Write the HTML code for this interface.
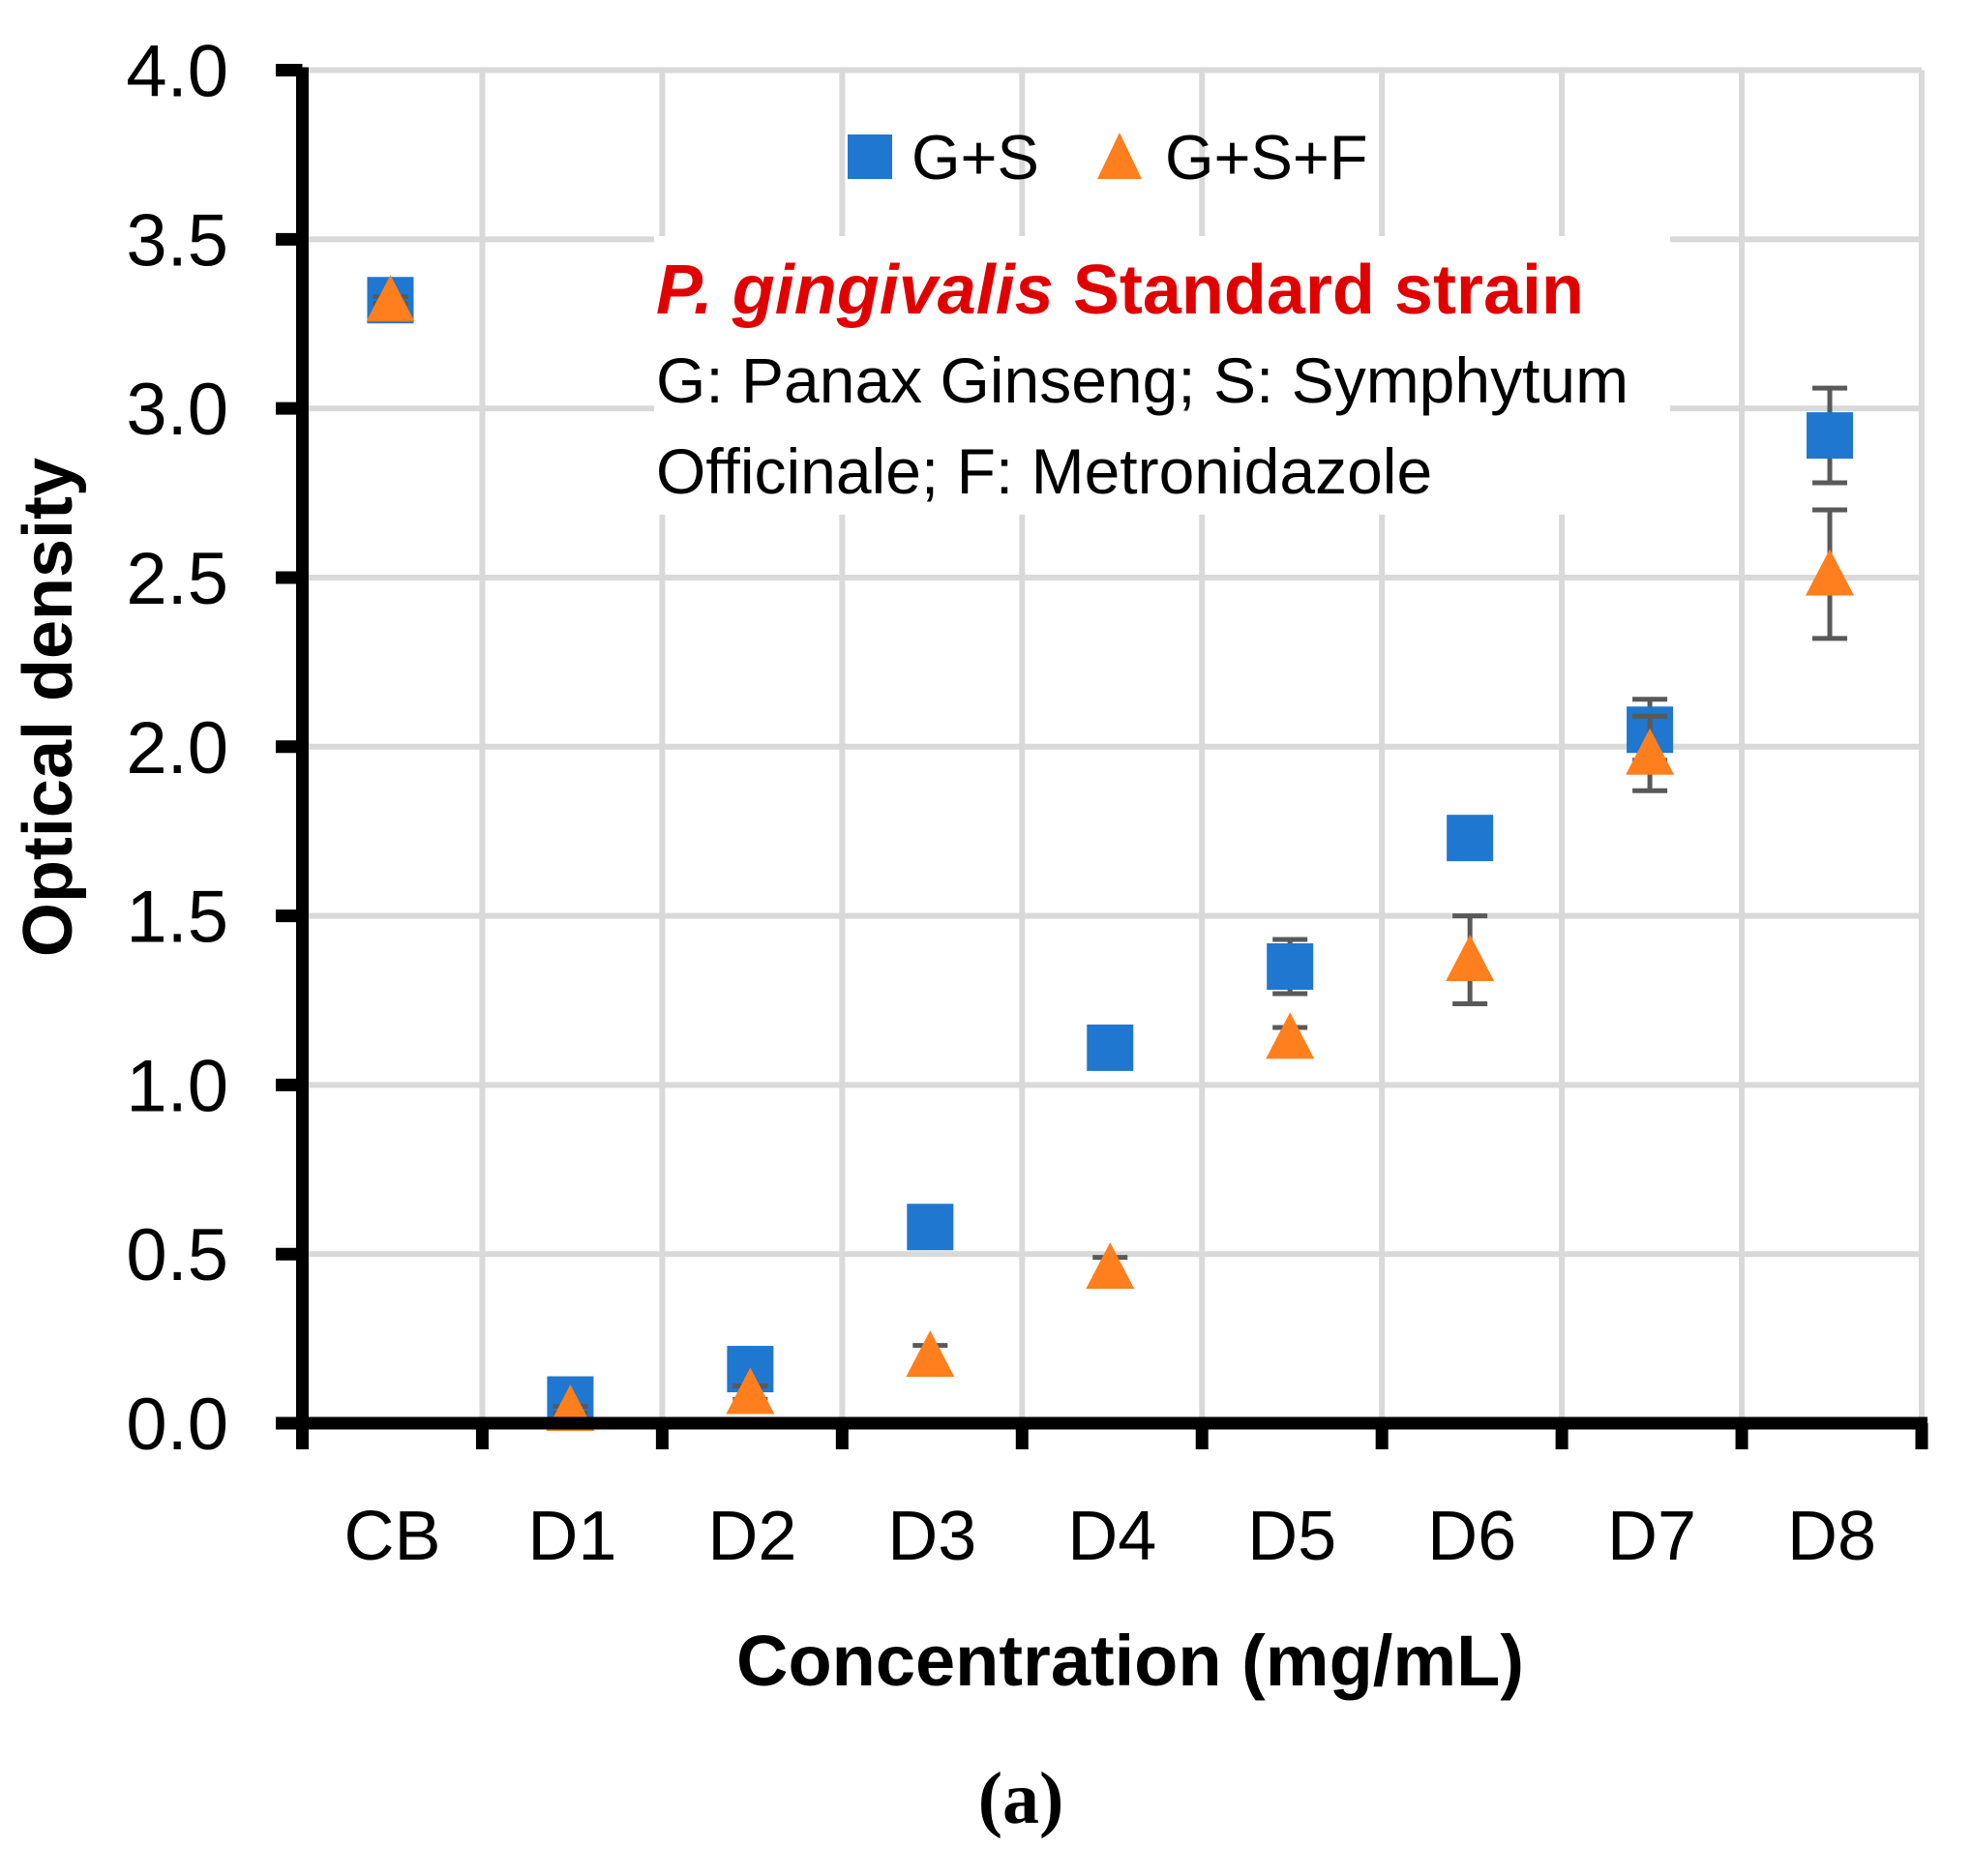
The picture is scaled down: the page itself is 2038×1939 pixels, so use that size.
<!DOCTYPE html>
<html><head><meta charset="utf-8"><style>
body{margin:0;background:#fff}
svg text{font-family:"Liberation Sans",sans-serif}
</style></head><body>
<svg id="chart" width="2038" height="1934" viewBox="0 0 2038 1934" xmlns="http://www.w3.org/2000/svg">
<g id="grid"></g>
<rect x="676" y="244" width="1050" height="288" fill="#fff"/>
<text x="678" y="324" font-size="72" font-weight="bold" fill="#e00000"><tspan font-style="italic">P. gingivalis</tspan> Standard strain</text>
<text x="678" y="416" font-size="66" fill="#000">G: Panax Ginseng; S: Symphytum</text>
<text x="678" y="510" font-size="66" fill="#000">Officinale; F: Metronidazole</text>
<rect x="876" y="139" width="46" height="46" fill="#1f77d0"/>
<text x="942" y="185" font-size="65">G+S</text>
<polygon points="1157,137 1134,185 1180,185" fill="#ff7f1e"/>
<text x="1204" y="185" font-size="65">G+S+F</text>
<g id="marks"></g>
<g id="axes"></g>
<text transform="translate(74,731) rotate(-90)" text-anchor="middle" font-size="72" font-weight="bold">Optical density</text>
<text x="1168" y="1742" text-anchor="middle" font-size="74" font-weight="bold">Concentration (mg/mL)</text>
<text x="1055" y="1884" text-anchor="middle" font-size="76" font-weight="bold" style="font-family:'Liberation Serif',serif">(a)</text>
</svg>
<script>
const categories=["CB","D1","D2","D3","D4","D5","D6","D7","D8"];
const gsValues=[3.32,0.07,0.16,0.58,1.11,1.35,1.73,2.05,2.92];
const gsErrors=[0.02,0.02,0.05,0.06,0.02,0.08,0.02,0.09,0.14];
const gsfValues=[3.32,0.04,0.09,0.20,0.46,1.14,1.37,1.98,2.51];
const gsfErrors=[0.01,0.01,0.02,0.03,0.03,0.03,0.13,0.11,0.19];
const yTicks=["0.0","0.5","1.0","1.5","2.0","2.5","3.0","3.5","4.0"];
const X0=312.5,X1=1986,Y0=1471,Y1=72.5,YMAX=4;
const bw=(X1-X0)/categories.length;
const xs=i=>X0+bw*(i+0.5);
const ys=v=>Y0-(v/YMAX)*(Y0-Y1);
const NS="http://www.w3.org/2000/svg";
function mk(parent,tag,attrs){const e=document.createElementNS(NS,tag);for(const k in attrs)e.setAttribute(k,attrs[k]);document.getElementById(parent).appendChild(e);return e;}
yTicks.forEach((t,i)=>{const v=parseFloat(t);if(v===0)return;
const g=mk('grid','line',{x1:X0,x2:X1,y1:ys(v),y2:ys(v),stroke:'#d9d9d9','stroke-width':6});

});
for(let i=1;i<=categories.length;i++){const g=mk('grid','line',{x1:X0+bw*i,x2:X0+bw*i,y1:Y1,y2:Y0,stroke:'#d9d9d9','stroke-width':6});

}
let a=mk('axes','line',{x1:X0,x2:X0,y1:Y1-3,y2:Y0+6,stroke:'#000','stroke-width':13});


a=mk('axes','line',{x1:X0-6,x2:X1+6,y1:Y0,y2:Y0,stroke:'#000','stroke-width':13});


yTicks.forEach(t=>{const v=parseFloat(t);
const tk=mk('axes','line',{x1:285,x2:X0,y1:ys(v),y2:ys(v),stroke:'#000','stroke-width':13});


const tx=mk('axes','text',{x:236,y:ys(v)+27,'text-anchor':'end','font-size':76});
tx.textContent=t;

});
for(let i=0;i<=categories.length;i++){const tk=mk('axes','line',{x1:X0+bw*i,x2:X0+bw*i,y1:Y0,y2:1498,stroke:'#000','stroke-width':13});

}
categories.forEach((c,i)=>{const tx=mk('axes','text',{x:xs(i),y:1612,'text-anchor':'middle','font-size':72});
tx.textContent=c;

});
function err(x,v,e){const c='#595959';
const l=mk('marks','line',{x1:x,x2:x,y1:ys(v+e),y2:ys(v-e),stroke:c,'stroke-width':5});


[v+e,v-e].forEach(w=>{const cp=mk('marks','line',{x1:x-18,x2:x+18,y1:ys(w),y2:ys(w),stroke:c,'stroke-width':5});

});}
categories.forEach((c,i)=>{const x=xs(i)-2;
err(x,gsValues[i],gsErrors[i]);
const r=mk('marks','rect',{x:x-24,y:ys(gsValues[i])-24,width:48,height:48,fill:'#1f77d0'});

});
categories.forEach((c,i)=>{const x=xs(i)-2;
err(x,gsfValues[i],gsfErrors[i]);
const y=ys(gsfValues[i]);
const p=mk('marks','polygon',{points:`${x},${y-26} ${x-25},${y+22} ${x+25},${y+22}`,fill:'#ff7f1e'});

});
</script>
</body></html>
